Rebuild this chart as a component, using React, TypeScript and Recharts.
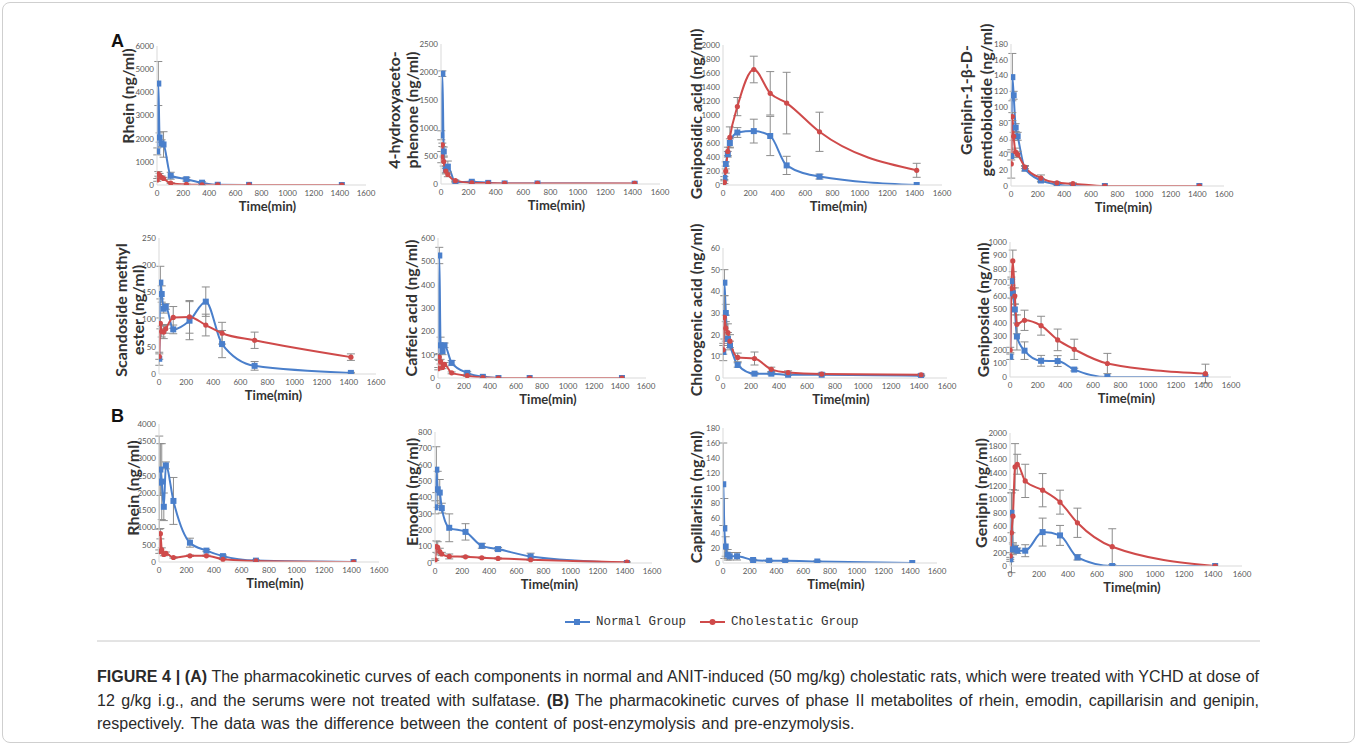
import React from 'react';
import { LineChart, Line, XAxis, YAxis, ErrorBar } from 'recharts';

// Sampling times (min)
const TIMES = [2, 10, 20, 35, 50, 105, 225, 345, 465, 705, 1415];
const X_TICKS = [0, 200, 400, 600, 800, 1000, 1200, 1400, 1600];

// (A) Rhein
const RHEIN_A_N = [1450, 4380, 2050, 1800, 1750, 400, 250, 100, 10, 5, 0];
const RHEIN_A_N_SD = [150, 950, 200, 150, 550, 150, 80, 40, 0, 0, 0];
const RHEIN_A_C = [220, 480, 420, 330, 280, 80, 25, 10, 5, 5, 0];
const RHEIN_A_C_SD = [60, 100, 80, 60, 50, 20, 10, 5, 0, 0, 0];
const RHEIN_A_TICKS = [0, 1000, 2000, 3000, 4000, 5000, 6000];

// (A) 4-hydroxyacetophenone
const HAP_N = [870, 1970, 580, 260, 310, 30, 40, 20, 10, 10, 5];
const HAP_N_SD = [80, 50, 80, 60, 100, 10, 10, 5, 0, 0, 0];
const HAP_C = [480, 700, 400, 230, 170, 60, 20, 15, 10, 10, 10];
const HAP_C_SD = [100, 30, 80, 50, 40, 10, 5, 0, 0, 0, 0];
const HAP_TICKS = [0, 500, 1000, 1500, 2000, 2500];

// (A) Geniposidic acid
const GPA_N = [10, 100, 300, 440, 600, 750, 770, 700, 280, 120, 0];
const GPA_N_SD = [0, 20, 30, 40, 60, 70, 170, 280, 130, 35, 0];
const GPA_C = [0, 40, 200, 480, 680, 1120, 1650, 1310, 1170, 760, 210];
const GPA_C_SD = [0, 20, 30, 60, 150, 130, 190, 310, 440, 280, 100];
const GPA_TICKS = [0, 200, 400, 600, 800, 1000, 1200, 1400, 1600, 1800, 2000];

// (A) Genipin-1-β-D-gentiobiodide
const GG_N = [38, 138, 115, 74, 63, 22, 7, 2, 0, 0, 0];
const GG_N_SD = [5, 30, 5, 5, 5, 3, 2, 1, 0, 0, 0];
const GG_C = [28, 88, 63, 43, 40, 24, 10, 4, 3, 0, 0];
const GG_C_SD = [18, 5, 5, 5, 4, 2, 4, 1, 1, 0, 0];
const GG_TICKS = [0, 20, 40, 60, 80, 100, 120, 140, 160, 180];

// (A) Scandoside methyl ester
const SME_N = [28, 168, 147, 120, 124, 82, 98, 133, 55, 15, 2];
const SME_N_SD = [12, 30, 15, 8, 5, 8, 35, 27, 25, 8, 1];
const SME_C = [32, 93, 78, 77, 83, 104, 105, 90, 75, 62, 31];
const SME_C_SD = [5, 10, 10, 12, 8, 20, 30, 20, 20, 15, 6];
const SME_TICKS = [0, 50, 100, 150, 200, 250];

// (A) Caffeic acid
const CA_N = [90, 525, 140, 115, 140, 65, 22, 5, 0, 0, 0];
const CA_N_SD = [10, 35, 35, 15, 10, 10, 5, 2, 0, 0, 0];
const CA_C = [40, 90, 70, 45, 58, 22, 10, 2, 0, 0, 0];
const CA_C_SD = [5, 15, 10, 5, 8, 4, 3, 1, 0, 0, 0];
const CA_TICKS = [0, 100, 200, 300, 400, 500, 600];

// (A) Chlorogenic acid
const CGA_N = [12, 44, 30, 18, 15, 6, 2, 2, 1.5, 1.5, 1];
const CGA_N_SD = [4, 6, 4, 3, 2, 1, 0.5, 0.5, 0.3, 0.3, 0.2];
const CGA_C = [13, 28, 23, 21, 17, 9.5, 9, 4, 2.5, 1.8, 1.5];
const CGA_C_SD = [2, 10, 6, 4, 3, 2, 3, 1, 0.8, 0.5, 0.3];
const CGA_TICKS = [0, 10, 20, 30, 40, 50, 60];

// (A) Geniposide
const GP_N = [150, 710, 620, 500, 300, 195, 120, 118, 55, 0, 0];
const GP_N_SD = [20, 30, 40, 40, 100, 65, 40, 40, 10, 0, 0];
const GP_C = [200, 655, 860, 600, 390, 420, 380, 275, 205, 100, 25];
const GP_C_SD = [20, 70, 80, 60, 70, 75, 70, 80, 75, 75, 70];
const GP_TICKS = [0, 100, 200, 300, 400, 500, 600, 700, 800, 900, 1000];

// (B) Rhein
const RHEIN_B_N = [2300, 2680, 2330, 1600, 2800, 1770, 560, 330, 170, 40, 0];
const RHEIN_B_N_SD = [1350, 750, 1100, 400, 100, 680, 130, 30, 30, 20, 0];
const RHEIN_B_C = [300, 820, 350, 220, 250, 130, 180, 180, 80, 30, 0];
const RHEIN_B_C_SD = [50, 150, 60, 40, 40, 20, 20, 20, 10, 5, 0];
const RHEIN_B_TICKS = [0, 500, 1000, 1500, 2000, 2500, 3000, 3500, 4000];

// (B) Emodin
const EMO_N = [340, 570, 450, 430, 335, 215, 190, 105, 85, 40, 0];
const EMO_N_SD = [40, 140, 110, 80, 30, 85, 50, 15, 10, 20, 0];
const EMO_C = [20, 100, 95, 70, 55, 40, 38, 32, 28, 20, 5];
const EMO_C_SD = [5, 35, 35, 20, 10, 15, 5, 3, 3, 3, 2];
const EMO_TICKS = [0, 100, 200, 300, 400, 500, 600, 700, 800];

// (B) Capillarisin (normal group only)
const CAP_N = [105, 46, 22, 11, 9, 9, 4, 3, 3, 2, 0];
const CAP_N_SD = [55, 40, 13, 7, 5, 5, 1, 1, 1, 1, 0];
const CAP_TICKS = [0, 20, 40, 60, 80, 100, 120, 140, 160, 180];

// (B) Genipin
const GEN_N = [100, 800, 250, 260, 230, 230, 510, 460, 130, 0, 0];
const GEN_N_SD = [30, 300, 80, 50, 40, 90, 210, 150, 40, 0, 0];
const GEN_C = [150, 500, 750, 1490, 1530, 1280, 1140, 960, 650, 290, 0];
const GEN_C_SD = [50, 600, 400, 350, 150, 250, 250, 180, 220, 270, 0];
const GEN_TICKS = [0, 200, 400, 600, 800, 1000, 1200, 1400, 1600, 1800, 2000];

const BLUE = '#4a7fcb';
const RED = '#cf4a4a';
const ERR = '#8c8c8c';
const AXIS = '#d9d9d9';
const TICK = '#595959';

type PanelDef = {
  title: string[];
  titleX: number[];
  titleY: number;
  n: number[];
  nSd: number[];
  c?: number[];
  cSd?: number[];
  yTicks: number[];
  x0: number;
  x1: number;
  y0: number;
  y1: number;
};

const PANELS: PanelDef[] = [
  { title: ['Rhein (ng/ml)'], titleX: [127], titleY: 96, n: RHEIN_A_N, nSd: RHEIN_A_N_SD, c: RHEIN_A_C, cSd: RHEIN_A_C_SD, yTicks: RHEIN_A_TICKS, x0: 157, x1: 366, y0: 46, y1: 185 },
  { title: ['4-hydroxyaceto-', 'phenone (ng/ml)'], titleX: [393, 411], titleY: 110, n: HAP_N, nSd: HAP_N_SD, c: HAP_C, cSd: HAP_C_SD, yTicks: HAP_TICKS, x0: 441, x1: 660, y0: 44, y1: 184 },
  { title: ['Geniposidic acid (ng/ml)'], titleX: [695], titleY: 114, n: GPA_N, nSd: GPA_N_SD, c: GPA_C, cSd: GPA_C_SD, yTicks: GPA_TICKS, x0: 723, x1: 942, y0: 45, y1: 185 },
  { title: ['Genipin-1-β-D-', 'gentiobiodide (ng/ml)'], titleX: [965, 985], titleY: 100, n: GG_N, nSd: GG_N_SD, c: GG_C, cSd: GG_C_SD, yTicks: GG_TICKS, x0: 1011, x1: 1224, y0: 44, y1: 186 },
  { title: ['Scandoside methyl', 'ester (ng/ml)'], titleX: [120, 137], titleY: 310, n: SME_N, nSd: SME_N_SD, c: SME_C, cSd: SME_C_SD, yTicks: SME_TICKS, x0: 159, x1: 376, y0: 238, y1: 374 },
  { title: ['Caffeic acid (ng/ml)'], titleX: [410], titleY: 308, n: CA_N, nSd: CA_N_SD, c: CA_C, cSd: CA_C_SD, yTicks: CA_TICKS, x0: 438, x1: 646, y0: 238, y1: 378 },
  { title: ['Chlorogenic acid (ng/ml)'], titleX: [695], titleY: 310, n: CGA_N, nSd: CGA_N_SD, c: CGA_C, cSd: CGA_C_SD, yTicks: CGA_TICKS, x0: 723, x1: 947, y0: 248, y1: 378 },
  { title: ['Geniposide (ng/ml)'], titleX: [982], titleY: 310, n: GP_N, nSd: GP_N_SD, c: GP_C, cSd: GP_C_SD, yTicks: GP_TICKS, x0: 1010, x1: 1231, y0: 242, y1: 377 },
  { title: ['Rhein (ng/ml)'], titleX: [132], titleY: 488, n: RHEIN_B_N, nSd: RHEIN_B_N_SD, c: RHEIN_B_C, cSd: RHEIN_B_C_SD, yTicks: RHEIN_B_TICKS, x0: 159, x1: 379, y0: 424, y1: 562 },
  { title: ['Emodin (ng/ml)'], titleX: [411], titleY: 492, n: EMO_N, nSd: EMO_N_SD, c: EMO_C, cSd: EMO_C_SD, yTicks: EMO_TICKS, x0: 435, x1: 652, y0: 432, y1: 563 },
  { title: ['Capillarisin (ng/ml)'], titleX: [695], titleY: 497, n: CAP_N, nSd: CAP_N_SD, yTicks: CAP_TICKS, x0: 723, x1: 937, y0: 428, y1: 563 },
  { title: ['Genipin (ng/ml)'], titleX: [980], titleY: 493, n: GEN_N, nSd: GEN_N_SD, c: GEN_C, cSd: GEN_C_SD, yTicks: GEN_TICKS, x0: 1010, x1: 1242, y0: 433, y1: 566 },
];

const SquareDot = (props: any) => {
  const { cx, cy, index } = props;
  if (cx == null || cy == null) return <g key={`sq-${index}`} />;
  return <rect key={`sq-${index}`} x={cx - 3} y={cy - 3} width={6} height={6} fill={BLUE} />;
};

const LW = 75;
const RM = 20;
const TM = 10;
const XH = 30;

function Panel({ p }: { p: PanelDef }) {
  const width = p.x1 - p.x0 + LW + RM;
  const height = p.y1 - p.y0 + TM + XH;
  const data = TIMES.map((t, i) => ({
    t,
    n: p.n[i],
    nErr: p.nSd[i],
    c: p.c ? p.c[i] : undefined,
    cErr: p.cSd ? p.cSd[i] : undefined,
  }));
  const tickStyle = { fontSize: 8, fill: TICK, fontFamily: 'Lato, sans-serif' };
  return (
    <div style={{ position: 'absolute', left: p.x0 - LW, top: p.y0 - TM }}>
      <LineChart width={width} height={height} data={data} margin={{ top: TM, right: RM, bottom: 0, left: 0 }}>
        <XAxis
          dataKey="t"
          type="number"
          domain={[0, 1600]}
          ticks={X_TICKS}
          interval={0}
          tickLine={false}
          tickSize={0}
          tickMargin={5}
          height={XH}
          axisLine={{ stroke: AXIS }}
          tick={tickStyle}
          allowDataOverflow
        />
        <YAxis
          type="number"
          domain={[0, p.yTicks[p.yTicks.length - 1]]}
          ticks={p.yTicks}
          interval={0}
          width={LW}
          tickLine={false}
          tickSize={0}
          tickMargin={3}
          axisLine={{ stroke: AXIS }}
          tick={tickStyle}
          allowDataOverflow
        />
        <Line dataKey="n" type="monotone" stroke={BLUE} strokeWidth={2} dot={SquareDot} activeDot={false} isAnimationActive={false}>
          <ErrorBar dataKey="nErr" direction="y" width={4} stroke={ERR} strokeWidth={1} />
        </Line>
        {p.c && (
          <Line dataKey="c" type="monotone" stroke={RED} strokeWidth={2} dot={{ r: 2.6, fill: RED, stroke: RED, strokeWidth: 0 }} activeDot={false} isAnimationActive={false}>
            <ErrorBar dataKey="cErr" direction="y" width={4} stroke={ERR} strokeWidth={1} />
          </Line>
        )}
      </LineChart>
    </div>
  );
}

const CAPTION_LINES = [
  [
    { t: 'FIGURE 4 | (A)', b: true },
    { t: ' The pharmacokinetic curves of each components in normal and ANIT-induced (50 mg/kg) cholestatic rats, which were treated with YCHD at dose of', b: false },
  ],
  [
    { t: '12 g/kg i.g., and the serums were not treated with sulfatase. ', b: false },
    { t: '(B)', b: true },
    { t: ' The pharmacokinetic curves of phase II metabolites of rhein, emodin, capillarisin and genipin,', b: false },
  ],
  [{ t: 'respectively. The data was the difference between the content of post-enzymolysis and pre-enzymolysis.', b: false }],
];

export default function App() {
  return (
    <div style={{ position: 'absolute', left: 0, top: 0, width: 1357, height: 745, background: '#fff', overflow: 'hidden' }}>
      <div style={{ position: 'absolute', left: 2, top: 2, width: 1351, height: 739, border: '1px solid #cfcfcf', borderRadius: 8 }} />
      {PANELS.map((p, i) => (
        <Panel key={i} p={p} />
      ))}
      <svg width={1357} height={745} style={{ position: 'absolute', left: 0, top: 0, pointerEvents: 'none' }}>
        <text x={111} y={47} fontSize={18} fontWeight={700} fontFamily="Liberation Sans, Arial, sans-serif" fill="#111">A</text>
        <text x={111} y={422} fontSize={18} fontWeight={700} fontFamily="Liberation Sans, Arial, sans-serif" fill="#111">B</text>
        {PANELS.map((p, i) => (
          <g key={`t${i}`}>
            {p.title.map((line, j) => (
              <text
                key={j}
                transform={`translate(${p.titleX[j]},${p.titleY}) rotate(-90)`}
                textAnchor="middle"
                dominantBaseline="central"
                fontSize={16}
                fontWeight={700}
                fontFamily="Lato, sans-serif"
                fill="#333"
              >
                {line}
              </text>
            ))}
            <text
              x={(p.x0 + p.x1) / 2 + 6}
              y={p.y1 + 21}
              textAnchor="middle"
              dominantBaseline="central"
              fontSize={13}
              fontWeight={700}
              fontFamily="Lato, sans-serif"
              fill="#333"
            >
              Time(min)
            </text>
          </g>
        ))}
        {/* legend */}
        <line x1={565} y1={622} x2={590} y2={622} stroke={BLUE} strokeWidth={2} />
        <rect x={574} y={619} width={6} height={6} fill={BLUE} />
        <text x={596} y={622} dominantBaseline="central" fontSize={12.5} fontFamily="Liberation Mono, monospace" fill="#333">Normal Group</text>
        <line x1={700} y1={622} x2={725} y2={622} stroke={RED} strokeWidth={2} />
        <circle cx={712.5} cy={622} r={3} fill={RED} />
        <text x={731} y={622} dominantBaseline="central" fontSize={12.5} fontFamily="Liberation Mono, monospace" fill="#333">Cholestatic Group</text>
        <line x1={97} y1={641} x2={1260} y2={641} stroke="#c8c8c8" strokeWidth={1} />
      </svg>
      <div style={{ position: 'absolute', left: 97, top: 665, width: 1162, fontFamily: 'Liberation Sans, Arial, sans-serif', fontSize: 16, color: '#2a2a2a', lineHeight: '23.5px' }}>
        {CAPTION_LINES.map((line, i) => (
          <div key={i} style={{ textAlign: i < 2 ? 'justify' : 'left', textAlignLast: i < 2 ? 'justify' : 'left', whiteSpace: 'nowrap' as any, wordSpacing: i === 2 ? '1.6px' : undefined }}>
            {line.map((s, j) => (
              <span key={j} style={{ fontWeight: s.b ? 700 : 400 }}>{s.t}</span>
            ))}
          </div>
        ))}
      </div>
    </div>
  );
}
